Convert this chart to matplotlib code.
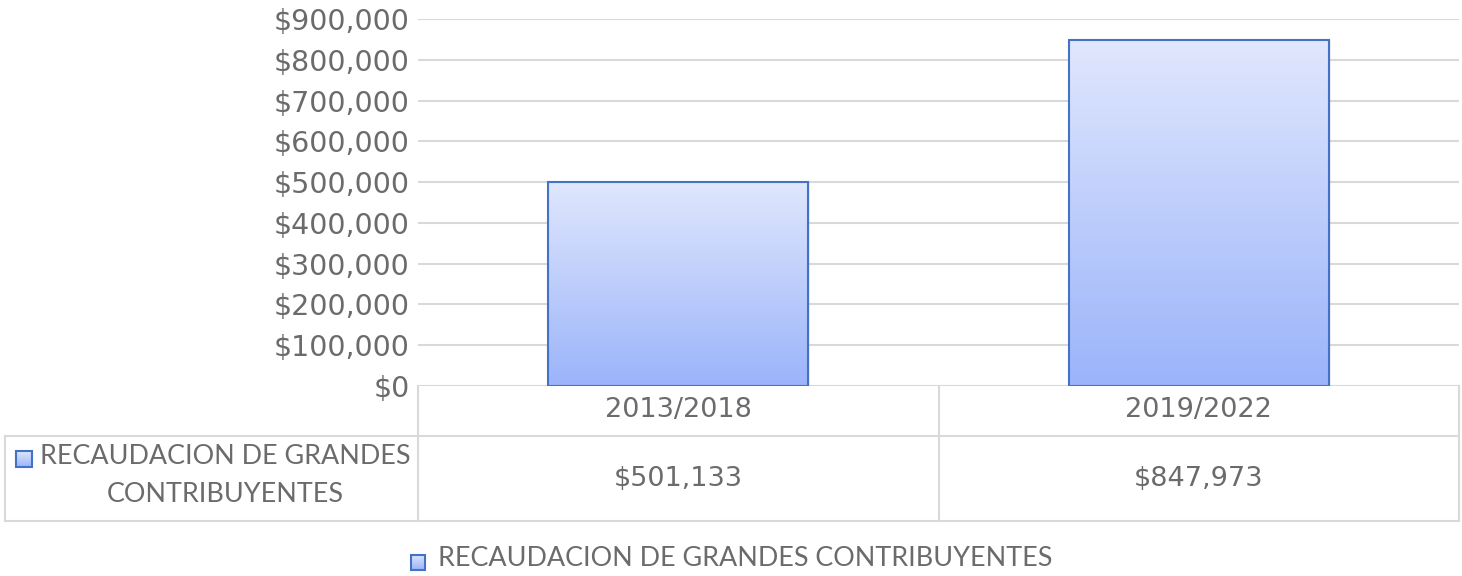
import matplotlib
matplotlib.use("Agg")
import matplotlib.pyplot as plt
import numpy as np
from matplotlib.lines import Line2D
from matplotlib.patches import Rectangle

categories = ["2013/2018", "2019/2022"]
values = [501133, 847973]
series_name = "RECAUDACION DE GRANDES CONTRIBUYENTES"
yticks = [0, 100000, 200000, 300000, 400000, 500000, 600000, 700000, 800000, 900000]

W, H = 1462, 576
plt.rcParams['font.family'] = ['Lato', 'DejaVu Sans']
NUMFONT = ['DejaVu Sans']
TXT = '#6b6b6b'
GRID = '#d9d9d9'
EDGE = '#4472c4'
FS = 19.4
NFS = 19.5
TFS = 20.5

fig = plt.figure(figsize=(W/100, H/100), dpi=100)

def fx(px): return px / W
def fy(py): return 1 - py / H

x0, x1, ytop, ybot = 418, 1459, 19, 386
ax = fig.add_axes([fx(x0), fy(ybot), fx(x1) - fx(x0), fy(ytop) - fy(ybot)])
ax.set_xlim(-0.5, len(categories) - 0.5)
ax.set_ylim(0, 900000)
ax.set_yticks(yticks)
ax.set_yticklabels(["${:,.0f}".format(v) for v in yticks], color=TXT, fontsize=TFS, family=NUMFONT)
ax.tick_params(axis='y', length=0, pad=6)
ax.set_xticks([])
for s in ax.spines.values():
    s.set_visible(False)
ax.yaxis.grid(True, color=GRID, lw=1.5)
ax.set_axisbelow(True)

grad = np.linspace(0, 1, 256)[:, None]
top = np.array([224, 231, 253]) / 255
bot = np.array([155, 180, 250]) / 255
img = (top[None, None, :] * (1 - grad[:, :, None]) + bot[None, None, :] * grad[:, :, None])

bars = ax.bar(range(len(categories)), values, width=0.5, facecolor='none', edgecolor=EDGE, lw=1.5, zorder=3)
for b in bars:
    bx, by, bw, bh = b.get_x(), b.get_y(), b.get_width(), b.get_height()
    ax.add_patch(Rectangle((bx + 0.004, by), bw, bh, facecolor='#000000', alpha=0.06, lw=0, zorder=1.5))
    im = ax.imshow(img, extent=(bx, bx + bw, by, by + bh), aspect='auto', zorder=2, interpolation='bicubic')
    im.set_clip_path(b)
ax.set_xlim(-0.5, len(categories) - 0.5)
ax.set_ylim(0, 900000)

def hline(y, xa, xb):
    fig.add_artist(Line2D([fx(xa), fx(xb)], [fy(y), fy(y)], color=GRID, lw=1.5))
def vline(x, ya, yb):
    fig.add_artist(Line2D([fx(x), fx(x)], [fy(ya), fy(yb)], color=GRID, lw=1.5))

r0, r1, r2 = 386, 436, 521
hline(r1, 5, x1)
hline(r2, 5, x1)
vline(5, r1, r2)
colw = (x1 - x0) / len(categories)
for i in range(len(categories) + 1):
    vline(x0 + i * colw, r0, r2)

for i, (c, v) in enumerate(zip(categories, values)):
    cx = x0 + (i + 0.5) * colw
    fig.text(fx(cx), fy((r0 + r1) / 2 - 1), c, ha='center', va='center', color=TXT, fontsize=NFS, family=NUMFONT)
    fig.text(fx(cx), fy((r1 + r2) / 2), "${:,.0f}".format(v), ha='center', va='center', color=TXT, fontsize=NFS, family=NUMFONT)

def legend_key(cx, cy, size=16):
    axk = fig.add_axes([fx(cx - size/2), fy(cy + size/2), size / W, size / H])
    axk.imshow(img, extent=(0, 1, 0, 1), aspect='auto', interpolation='bicubic')
    axk.add_patch(Rectangle((0, 0), 1, 1, facecolor='none', edgecolor=EDGE, lw=1.5, clip_on=False))
    axk.set_xlim(0, 1); axk.set_ylim(0, 1)
    axk.axis('off')

words = series_name.split()
line1 = " ".join(words[:3]); line2 = " ".join(words[3:])
legend_key(24, 459, size=16)
fig.text(fx(225), fy(457), line1, ha='center', va='center', color=TXT, fontsize=FS)
fig.text(fx(225), fy(495), line2, ha='center', va='center', color=TXT, fontsize=FS)

legend_key(418, 562, size=15)
fig.text(fx(438), fy(559), series_name, ha='left', va='center', color=TXT, fontsize=FS)

fig.savefig("out.png", dpi=100, facecolor='white')
